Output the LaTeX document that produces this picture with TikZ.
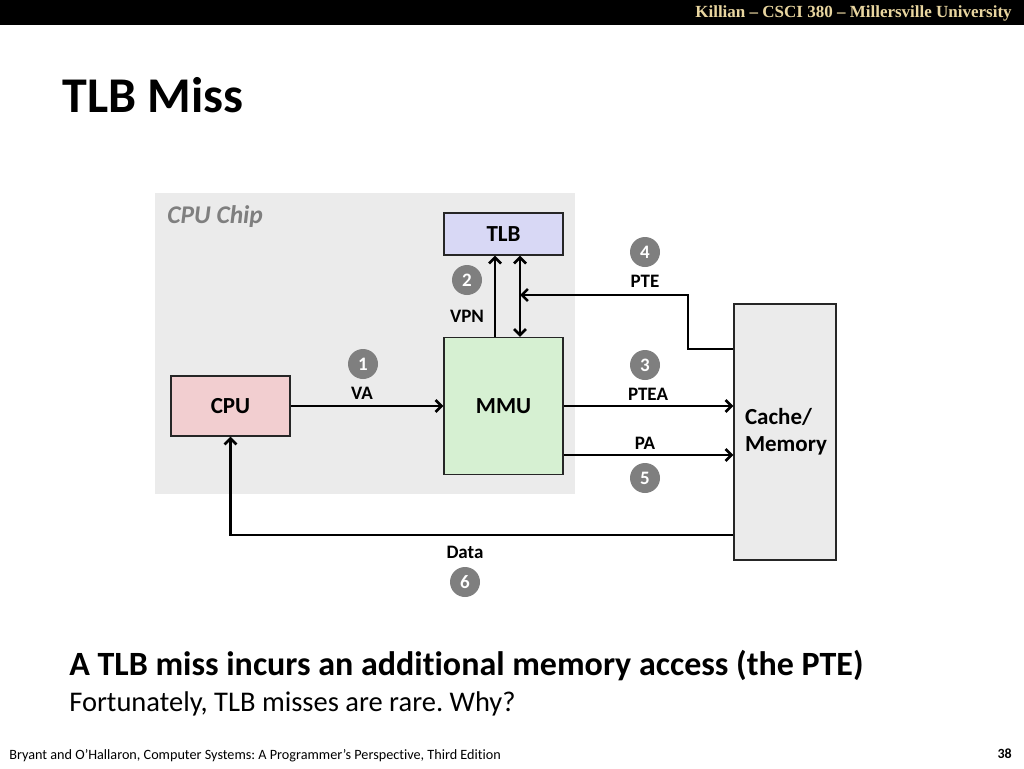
\documentclass[tikz,border=0pt]{standalone}
\usepackage{fontspec}
\setmainfont{Carlito}[Ligatures={TeX,NoCommon}]
\newfontfamily\headfont{Liberation Serif}
\usetikzlibrary{arrows.meta}
\frenchspacing
\definecolor{headgold}{RGB}{233,214,160}
\definecolor{chipgray}{RGB}{235,235,235}
\definecolor{tlbblue}{RGB}{216,216,245}
\definecolor{mmugreen}{RGB}{214,240,210}
\definecolor{cpupink}{RGB}{242,206,208}
\definecolor{stepgray}{RGB}{127,127,127}
\begin{document}
\begin{tikzpicture}[x=1pt,y=-1pt,line width=2.6pt,
          >={Straight Barb[length=6pt,width=12pt]},
          box/.style={draw=black!85,line width=1.3pt,minimum width=119pt,inner sep=0pt,
            font=\fontsize{23}{27}\selectfont\bfseries},
          lbl/.style={inner sep=0pt,font=\fontsize{19}{22}\selectfont\bfseries},
          stepnum/.style={circle,fill=stepgray,text=white,minimum size=30pt,inner sep=0pt,
            font=\fontsize{19}{22}\selectfont\bfseries}]
          \useasboundingbox (0,0) rectangle (1024,768);
          % header and title
          \fill[black] (0,0) rectangle (1024,25);
          \node[anchor=east,inner sep=0pt,text=headgold,font=\headfont\bfseries\fontsize{17}{19}\selectfont]
            (hdr) at (1013,13) {Killian – CSCI 380 – Millersville University};
          \node[anchor=west,inner sep=0pt,font=\fontsize{50}{56}\selectfont\bfseries] (title) at (61,95) {TLB Miss};
          % chip area
          \fill[chipgray] (155,193) rectangle (575,494);
          \node[anchor=west,inner sep=0pt,text=stepgray,font=\fontsize{25.5}{28}\selectfont\bfseries\itshape]
            (chip) at (166,217) {CPU Chip};
          % boxes
          \node[box,fill=tlbblue,minimum height=42pt] (tlb) at (503.5,234) {TLB};
          \node[box,fill=mmugreen,minimum height=137pt] (mmu) at (503.5,406) {MMU};
          \node[box,fill=cpupink,minimum height=60pt] (cpu) at (230.5,406) {CPU};
          \node[box,fill=chipgray,minimum width=102pt,minimum height=256pt,inner xsep=11pt,
            text width=80pt,align=left] (mem) at (785,432) {Cache/\\Memory};
          % wire positions
          \coordinate (vpn) at (495,0);
          \coordinate (pte) at (520,0);
          \coordinate (ptebend) at (688,295);
          \coordinate (ptein) at (0,349);
          \coordinate (pa) at (0,455);
          \coordinate (data) at (0,535);
          % connectors
          \draw[->] (cpu.east) -- (mmu.west);
          \draw[->] (mmu.north -| vpn) -- (tlb.south -| vpn);
          \draw[<->] (mmu.north -| pte) -- (tlb.south -| pte);
          \draw[->] (mem.west |- ptein) -| (ptebend) -- (ptebend -| pte);
          \draw[->] (mmu.east) -- (mmu.east -| mem.west);
          \draw[->] (mmu.east |- pa) -- (mem.west |- pa);
          \draw[->] (mem.west |- data) -| (cpu.south);
          % labels and steps
          \node[lbl] (va) at (362,393) {VA};
          \node[stepnum] (s1) at (363,364) {1};
          \node[lbl] (vpnl) at (467,316) {VPN};
          \node[stepnum] (s2) at (467,280) {2};
          \node[lbl] (ptea) at (648,394) {PTEA};
          \node[stepnum] (s3) at (645,365) {3};
          \node[lbl] (ptel) at (645,281) {PTE};
          \node[stepnum] (s4) at (645,252) {4};
          \node[lbl] (pal) at (645,443) {PA};
          \node[stepnum] (s5) at (645,478) {5};
          \node[lbl] (datal) at (465,552) {Data};
          \node[stepnum] (s6) at (465,582) {6};
          % bottom text
          \node[anchor=west,inner sep=0pt,font=\fontsize{34}{40}\selectfont\bfseries] (point) at (68,666)
            {A TLB miss incurs an additional memory access (the PTE)};
          \node[anchor=west,inner sep=0pt,font=\fontsize{28.5}{32}\selectfont] (why) at (68,704)
            {Fortunately, TLB misses are rare. Why?};
          \node[anchor=west,inner sep=0pt,font=\fontsize{14.2}{17}\selectfont] (cite) at (8,756)
            {Bryant and O’Hallaron, Computer Systems: A Programmer’s Perspective, Third Edition};
          \node[anchor=east,inner sep=0pt,font=\fontsize{14}{16}\selectfont\bfseries] (page) at (1013,754) {38};
\end{tikzpicture}
\end{document}
